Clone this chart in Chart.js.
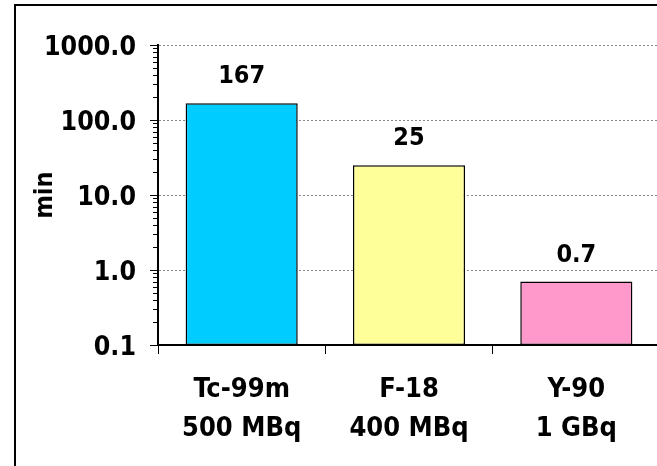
<!DOCTYPE html>
<html>
<head>
<meta charset="utf-8">
<script src="https://cdn.jsdelivr.net/npm/chart.js@4/dist/chart.umd.min.js"></script>
<style>
  html, body { margin: 0; padding: 0; background: #fff; overflow: hidden; width: 657px; height: 466px; }
  #wrap { position: relative; width: 657px; height: 466px; overflow: hidden; }
  #frame { position: absolute; left: 14px; top: 4px; width: 700px; height: 520px; border: 2px solid #000; box-sizing: border-box; pointer-events: none; }
  #c { position: absolute; left: 0; top: 0; }
</style>
</head>
<body>
<div id="wrap">
  <canvas id="c" width="660" height="466"></canvas>
  <div id="frame"></div>
</div>
<script>
// ---- data ----
const categories = [["Tc-99m", "500 MBq"], ["F-18", "400 MBq"], ["Y-90", "1 GBq"]];
const minutes = [167, 25, 0.7];
const barColors = ["#00CCFF", "#FFFF99", "#FF99CC"];
const majorTickValues = [0.1, 1, 10, 100, 1000];
const majorTickLabels = ["0.1", "1.0", "10.0", "100.0", "1000.0"];
const minorMultiples = [2, 3, 4, 5, 6, 7, 8, 9];
const yTitle = "min";

const FONT = "'DejaVu Sans Condensed', 'DejaVu Sans', sans-serif";
Chart.defaults.font.family = FONT;
Chart.defaults.font.weight = "bold";
Chart.defaults.color = "#000";

function isMajor(v) {
  return majorTickValues.some(m => Math.abs(m - v) < 1e-9 * Math.max(1, m));
}

const valueLabelPlugin = {
  id: "valueLabels",
  afterDatasetsDraw(chart) {
    const ctx = chart.ctx;
    const meta = chart.getDatasetMeta(0);
    ctx.save();
    ctx.font = "bold 25px " + FONT;
    ctx.fillStyle = "#000";
    ctx.textAlign = "center";
    ctx.textBaseline = "alphabetic";
    meta.data.forEach((bar, i) => {
      ctx.fillText(String(minutes[i]), bar.x, bar.y - 20);
    });
    ctx.restore();
  }
};

const minorTickPlugin = {
  id: "minorTicks",
  afterDraw(chart) {
    const s = chart.scales.y;
    const ctx = chart.ctx;
    ctx.save();
    ctx.strokeStyle = "#000";
    ctx.lineWidth = 1;
    s.ticks.forEach(t => {
      if (isMajor(t.value)) return;
      const y = Math.round(s.getPixelForValue(t.value)) + 0.5;
      ctx.beginPath();
      ctx.moveTo(s.right - 5, y);
      ctx.lineTo(s.right, y);
      ctx.stroke();
    });
    ctx.restore();
  }
};

new Chart(document.getElementById("c"), {
  type: "bar",
  data: {
    labels: categories,
    datasets: [{
      data: minutes,
      backgroundColor: barColors,
      borderColor: "#000",
      borderWidth: 1.5,
      borderSkipped: false,
      barPercentage: 0.67,
      categoryPercentage: 1.0
    }]
  },
  options: {
    responsive: false,
    animation: false,
    devicePixelRatio: 1,
    layout: { padding: { left: 18, top: 45, right: 0, bottom: 0 } },
    plugins: { legend: { display: false }, tooltip: { enabled: false } },
    scales: {
      x: {
        offset: true,
        grid: { drawOnChartArea: false, offset: true, tickLength: 9, tickColor: "#000", tickWidth: 1 },
        border: { color: "#000", width: 2 },
        ticks: { font: { size: 27, weight: "bold", lineHeight: 1.44 }, padding: 17, maxRotation: 0, autoSkip: false },
        afterFit(scale) { scale.height = 121; }
      },
      y: {
        type: "logarithmic",
        min: 0.1,
        max: 1000,
        afterBuildTicks(scale) {
          const t = [];
          for (let k = 0; k < majorTickValues.length; k++) {
            const base = majorTickValues[k];
            t.push({ value: base, major: true });
            if (k < majorTickValues.length - 1) {
              minorMultiples.forEach(m => t.push({ value: +(base * m).toPrecision(6), major: false }));
            }
          }
          scale.ticks = t;
        },
        afterFit(scale) { scale.width = 140; },
        grid: {
          color: c => (c.tick && isMajor(c.tick.value)) ? "#8a8a8a" : "rgba(0,0,0,0)",
          lineWidth: 1,
          tickLength: 8,
          tickColor: c => (c.tick && isMajor(c.tick.value)) ? "#000" : "rgba(0,0,0,0)",
          tickWidth: 1
        },
        border: { color: "#000", width: 2, dash: [2, 2] },
        ticks: {
          autoSkip: false,
          padding: 14,
          labelOffset: 3,
          font: { size: 26.5, weight: "bold" },
          callback: (v) => {
            const idx = majorTickValues.findIndex(m => Math.abs(m - v) < 1e-9 * Math.max(1, m));
            return idx >= 0 ? majorTickLabels[idx] : "";
          }
        },
        title: {
          display: true,
          text: yTitle,
          font: { size: 25, weight: "bold" },
          padding: { top: 12, bottom: 0 }
        }
      }
    }
  },
  plugins: [valueLabelPlugin, minorTickPlugin]
});
</script>
</body>
</html>
